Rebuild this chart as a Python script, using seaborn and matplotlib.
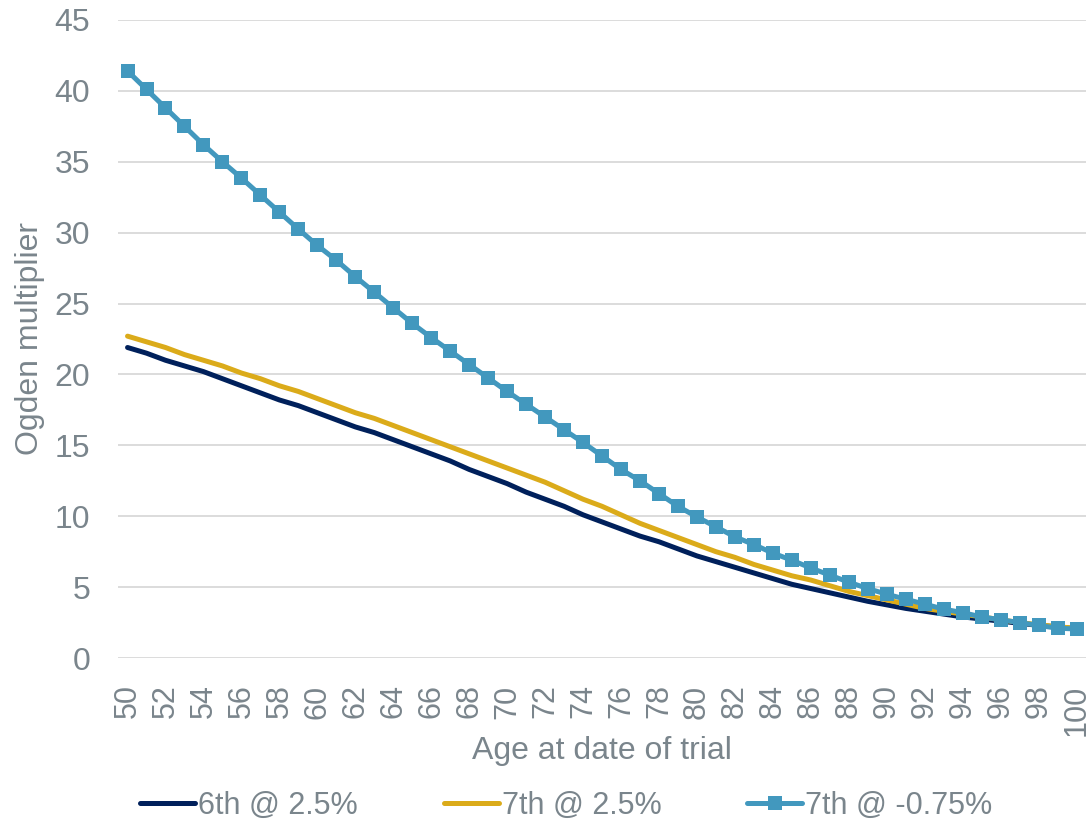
import numpy as np
import pandas as pd
import matplotlib
matplotlib.use("Agg")
import matplotlib.pyplot as plt
import seaborn as sns

ages = list(range(50, 101))

sixth_2_5 = [21.9, 21.5, 21.0, 20.6, 20.2, 19.7, 19.2, 18.7, 18.2, 17.8,
             17.3, 16.8, 16.3, 15.9, 15.4, 14.9, 14.4, 13.9, 13.3, 12.8,
             12.3, 11.7, 11.2, 10.7, 10.1, 9.6, 9.1, 8.6, 8.2, 7.7,
             7.2, 6.8, 6.4, 6.0, 5.6, 5.2, 4.9, 4.6, 4.3, 4.0,
             3.75, 3.5, 3.3, 3.1, 2.9, 2.75, 2.6, 2.45, 2.3, 2.2, 2.05]

seventh_2_5 = [22.7, 22.3, 21.9, 21.4, 21.0, 20.6, 20.1, 19.7, 19.2, 18.8,
               18.3, 17.8, 17.3, 16.9, 16.4, 15.9, 15.4, 14.9, 14.4, 13.9,
               13.4, 12.9, 12.4, 11.8, 11.2, 10.7, 10.1, 9.5, 9.0, 8.5,
               8.0, 7.5, 7.1, 6.6, 6.2, 5.8, 5.5, 5.1, 4.7, 4.4,
               4.1, 3.8, 3.5, 3.3, 3.1, 2.9, 2.7, 2.5, 2.35, 2.2, 2.1]

seventh_m0_75 = [41.4, 40.1, 38.8, 37.5, 36.2, 35.0, 33.85, 32.65, 31.45, 30.25,
                 29.1, 28.05, 26.9, 25.8, 24.7, 23.6, 22.6, 21.65, 20.7, 19.75,
                 18.8, 17.9, 17.0, 16.1, 15.2, 14.25, 13.3, 12.5, 11.6, 10.7,
                 9.95, 9.25, 8.55, 8.0, 7.4, 6.9, 6.35, 5.85, 5.35, 4.9,
                 4.5, 4.15, 3.8, 3.45, 3.2, 2.9, 2.7, 2.5, 2.3, 2.1, 2.05]

series_names = ["6th @ 2.5%", "7th @ 2.5%", "7th @ -0.75%"]
colors = ["#00205b", "#dbab1a", "#4298be"]
text_col = "#7a858c"
fs = 23

df = pd.DataFrame({"age": ages,
                   series_names[0]: sixth_2_5,
                   series_names[1]: seventh_2_5,
                   series_names[2]: seventh_m0_75})

sns.set_style("white")
plt.rcParams["font.family"] = ["Liberation Sans", "DejaVu Sans"]

fig = plt.figure(figsize=(10.86, 8.25), dpi=100)
ax = fig.add_axes([0.1087, 0.2024, 0.8913, 0.7734])

# smooth lines, no markers
sns.lineplot(data=df, x="age", y=series_names[0], ax=ax, color=colors[0],
             linewidth=3.6, label=series_names[0])
sns.lineplot(data=df, x="age", y=series_names[1], ax=ax, color=colors[1],
             linewidth=3.6, label=series_names[1])
# blue with square markers
sns.lineplot(data=df, x="age", y=series_names[2], ax=ax, color=colors[2],
             linewidth=3.6, marker="s", markersize=10.5, markeredgewidth=0,
             label=series_names[2])

ax.set_xlim(49.5, 100.5)
ax.set_ylim(0, 45)
ax.set_yticks(range(0, 46, 5))
ax.set_xticks(range(50, 101, 2))
ax.tick_params(axis="x", labelrotation=90, labelsize=22, pad=19)
ax.tick_params(axis="y", labelsize=fs, pad=20)
ax.tick_params(length=0, colors=text_col)
ax.grid(axis="y", color="#d9d9d9", linewidth=1.3)
ax.set_axisbelow(True)
for s in ax.spines.values():
    s.set_visible(False)

ax.set_xlabel("Age at date of trial", fontsize=fs, color=text_col, labelpad=0)
ax.set_ylabel("Ogden multiplier", fontsize=fs, color=text_col, labelpad=7)

handles, labels = ax.get_legend_handles_labels()
ax.get_legend().remove()
leg = fig.legend(handles, labels, loc="lower left", ncol=3,
                 bbox_to_anchor=(0.104, -0.028), frameon=False, fontsize=22,
                 handlelength=1.8, handletextpad=0.1, columnspacing=2.8)
for t in leg.get_texts():
    t.set_color(text_col)

fig.savefig("out.png", dpi=100)
